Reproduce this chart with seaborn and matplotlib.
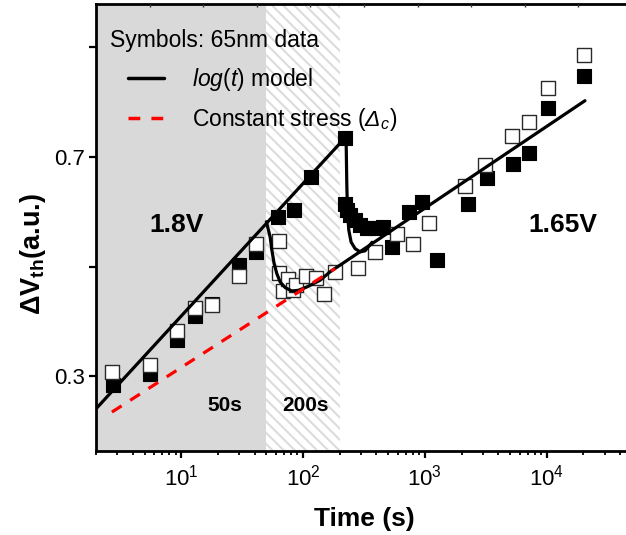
import matplotlib
matplotlib.use("Agg")
import matplotlib.pyplot as plt
import seaborn as sns
from matplotlib.lines import Line2D

# ---------------- data ----------------
open_t = [2.70, 5.5, 9.27, 13.1, 17.9, 29.7, 41.2, 63, 64, 68, 75, 82, 87, 106, 128, 150, 184,
          285, 391, 588, 795, 1089, 2140, 3120, 5160, 7160, 10180, 20200]
open_v = [0.308, 0.320, 0.382, 0.424, 0.430, 0.483, 0.541, 0.547, 0.488, 0.455, 0.477, 0.457, 0.466,
          0.483, 0.480, 0.450, 0.490, 0.4985, 0.527, 0.5605, 0.542, 0.580, 0.647, 0.685, 0.738,
          0.764, 0.825, 0.886]

filled_t = [2.75, 5.5, 9.27, 13.1, 17.9, 29.7, 41.2, 62.8, 84.5, 116, 219, 221, 228.5, 243, 267,
            294, 333, 390, 457, 535, 741, 944, 1253, 2249, 3222, 5260, 7196, 10300, 20200]
filled_v = [0.284, 0.305, 0.366, 0.411, 0.432, 0.503, 0.527, 0.591, 0.604, 0.664, 0.734, 0.615,
            0.603, 0.594, 0.585, 0.576, 0.570, 0.570, 0.573, 0.536, 0.600, 0.618, 0.512, 0.615,
            0.661, 0.688, 0.708, 0.790, 0.847]

# log(t) model at 1.8 V (0 - 200 s)
model18_t = [2.0, 219]
model18_v = [0.241, 0.734]
# recovery after switching at 200 s
rec200_t = [219, 226, 228.6, 231.4, 237.5, 248, 267.5, 294, 323, 369]
rec200_v = [0.734, 0.725, 0.652, 0.603, 0.5665, 0.545, 0.533, 0.527, 0.529, 0.5446]
# switch at 50 s, then log(t) model at 1.65 V
rec50_t = [50, 53.7, 55.5, 57.9, 60.9, 64.9, 71.3, 80.9, 91.6, 107.4, 138, 166.7, 20600]
rec50_v = [0.582, 0.5544, 0.530, 0.5058, 0.4875, 0.4722, 0.4620, 0.4558, 0.4570, 0.4631,
           0.4753, 0.4907, 0.8027]
# constant stress reference
const_t = [2.7, 183]
const_v = [0.235, 0.4967]

phase_bounds = [2, 50, 200]
y_ticks = [0.3, 0.5, 0.7, 0.9]
y_ticklabels = ["0.3", "", "0.7", ""]

# ---------------- style ----------------
sns.set_theme(style="ticks")
plt.rcParams["font.family"] = ["Liberation Sans", "DejaVu Sans"]
plt.rcParams["mathtext.fontset"] = "custom"
plt.rcParams["mathtext.rm"] = "Liberation Sans"
plt.rcParams["mathtext.it"] = "Liberation Sans:italic"
plt.rcParams["mathtext.sf"] = "Liberation Sans:italic"
plt.rcParams["mathtext.bf"] = "Liberation Sans:bold"
plt.rcParams["hatch.linewidth"] = 1.5
for k in ["axes.edgecolor", "text.color", "axes.labelcolor", "xtick.color", "ytick.color"]:
    plt.rcParams[k] = "black"

fig = plt.figure(figsize=(6.26, 5.35), dpi=100)
ax = fig.add_axes([0.1534, 0.157, 0.856, 0.8355])

# shaded stress phases
ax.axvspan(phase_bounds[0], phase_bounds[1], facecolor="#d9d9d9", edgecolor="none", lw=0, zorder=0)
ax.axvspan(phase_bounds[1], phase_bounds[2], facecolor="white", edgecolor="#dcdcdc",
           hatch="\\\\\\", lw=0, zorder=0)

# data symbols
sns.scatterplot(x=filled_t, y=filled_v, marker="s", s=115, color="black",
                edgecolor="black", linewidth=0.8, ax=ax, zorder=2, legend=False)
sns.scatterplot(x=open_t, y=open_v, marker="s", s=115, color="white",
                edgecolor="#2a2a2a", linewidth=1.0, ax=ax, zorder=3, legend=False)

# model lines
for tt, vv in [(model18_t, model18_v), (rec200_t, rec200_v), (rec50_t, rec50_v)]:
    sns.lineplot(x=tt, y=vv, sort=False, estimator=None, color="black", lw=2.3, ax=ax, zorder=4)
sns.lineplot(x=const_t, y=const_v, sort=False, estimator=None, color="#ff0000", lw=2.3,
             ax=ax, zorder=4)
ax.lines[-1].set_linestyle((0, (3.6, 3.2)))

ax.set_xscale("log")
ax.set_xlim(2, 5e4)
ax.set_ylim(0.164, 0.979)
ax.set_yticks(y_ticks)
ax.set_yticklabels(y_ticklabels)

for s in ax.spines.values():
    s.set_linewidth(2.0)
    s.set_color("black")
ax.tick_params(axis="both", which="major", direction="out", length=5, width=1.6,
               labelsize=16, colors="black", pad=3)
ax.tick_params(axis="x", which="minor", direction="out", length=2.8, width=1.3, colors="black")
ax.tick_params(axis="x", which="major", pad=5)

# top linear ticks
ax_top = ax.twiny()
ax_top.set_xlim(0, 10)
ax_top.set_xticks(range(1, 10))
ax_top.tick_params(axis="x", direction="in", length=2.5, width=1.0, labeltop=False, top=True,
                   colors="#333333")
for s in ax_top.spines.values():
    s.set_visible(False)

ax.set_xlabel("Time (s)", fontsize=19, fontweight="bold", labelpad=12)
ax.set_ylabel("ΔV$_{\\mathbf{th}}$(a.u.)", fontsize=19.5, fontweight="bold")
ax.yaxis.set_label_coords(-0.09, 0.44)

# region labels
ax.text(9.1, 0.576, "1.8V", fontsize=19, fontweight="bold", ha="center", va="center")
ax.text(13600, 0.576, "1.65V", fontsize=19, fontweight="bold", ha="center", va="center")
ax.text(22.8, 0.247, "50s", fontsize=15, fontweight="bold", ha="center", va="center")
ax.text(105.4, 0.247, "200s", fontsize=15, fontweight="bold", ha="center", va="center")

# legend
ax.text(0.026, 0.919, "Symbols: 65nm data", transform=ax.transAxes, fontsize=16.5,
        ha="left", va="center")
handles = [Line2D([], [], color="black", lw=2.5),
           Line2D([], [], color="#ff0000", lw=2.5, ls=(0, (3.4, 3.2)))]
labels = ["$\\mathit{log}$($\\mathit{t}$) model", "Constant stress ($\\mathsf{Δ_c}$)"]
leg = ax.legend(handles, labels, loc="upper left", bbox_to_anchor=(0.06, 0.862), frameon=False,
                fontsize=16.5, handlelength=1.55, handletextpad=1.25, labelspacing=0.6,
                borderpad=0, borderaxespad=0)

fig.savefig("out.png", dpi=100)
